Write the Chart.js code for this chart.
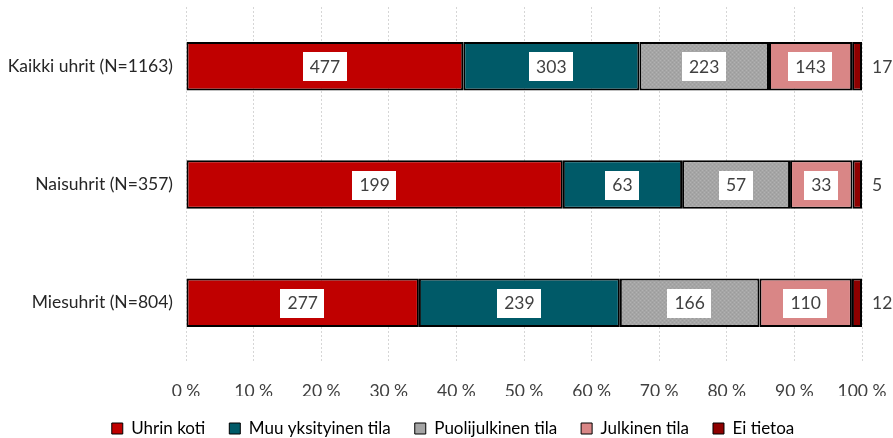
<!DOCTYPE html>
<html>
<head>
<meta charset="utf-8">
<script src="https://cdn.jsdelivr.net/npm/chart.js@4/dist/chart.umd.min.js"></script>
<style>
  html, body { margin: 0; padding: 0; background: #fff; }
  #wrap { width: 893px; height: 438px; }
</style>
</head>
<body>
<div id="wrap"><canvas id="c" width="893" height="438"></canvas></div>
<script>
// Ryhmät ja lukumäärät (tapahtumapaikka)
const categories = ['Kaikki uhrit (N=1163)', 'Naisuhrit (N=357)', 'Miesuhrit (N=804)'];
const totals = [1163, 357, 804];
const seriesNames = ['Uhrin koti', 'Muu yksityinen tila', 'Puolijulkinen tila', 'Julkinen tila', 'Ei tietoa'];
const uhrinKoti = [477, 199, 277];
const muuYksityinen = [303, 63, 239];
const puolijulkinen = [223, 57, 166];
const julkinen = [143, 33, 110];
const eiTietoa = [17, 5, 12];
const xTicks = [0, 10, 20, 30, 40, 50, 60, 70, 80, 90, 100];

const FONT = 'Lato, "Open Sans", sans-serif';
const FS = 17.5;

// Harmaa pisterasteri puolijulkiselle tilalle
function greyPattern() {
  const p = document.createElement('canvas');
  p.width = 4; p.height = 4;
  const g = p.getContext('2d');
  g.fillStyle = '#A5A5A5';
  g.fillRect(0, 0, 4, 4);
  g.fillStyle = '#B2B2B2';
  g.fillRect(0, 0, 1, 1);
  g.fillRect(2, 2, 1, 1);
  g.fillStyle = '#9B9B9B';
  g.fillRect(2, 0, 1, 1);
  g.fillRect(0, 2, 1, 1);
  return g.createPattern(p, 'repeat');
}

const counts = [uhrinKoti, muuYksityinen, puolijulkinen, julkinen, eiTietoa];
const colors = ['#C00000', '#005A68', greyPattern(), '#D98686', '#8E0000'];
const legendColors = ['#C00000', '#005A68', '#A5A5A5', '#D98686', '#8E0000'];

// Arvolaatikot palkkien päälle
const valueLabels = {
  id: 'valueLabels',
  afterDatasetsDraw(chart) {
    const ctx = chart.ctx;
    ctx.save();
    ctx.font = FS + 'px ' + FONT;
    ctx.textBaseline = 'middle';
    chart.data.datasets.forEach((ds, di) => {
      const meta = chart.getDatasetMeta(di);
      meta.data.forEach((bar, i) => {
        const txt = String(counts[di][i]);
        if (di === counts.length - 1) {
          ctx.fillStyle = '#404040';
          ctx.textAlign = 'left';
          ctx.fillText(txt, chart.scales.x.right + 10, bar.y + 1);
          return;
        }
        const cx = (bar.x + bar.base) / 2;
        const w = ctx.measureText(txt).width + 14;
        ctx.fillStyle = '#fff';
        ctx.fillRect(Math.round(cx - w / 2), Math.round(bar.y - 14), Math.round(w), 29);
        ctx.fillStyle = '#404040';
        ctx.textAlign = 'center';
        ctx.fillText(txt, cx, bar.y + 1);
      });
    });
    ctx.restore();
  }
};

// Selite hieman oikealle, kuten alkuperäisessä
const shiftLegend = {
  id: 'shiftLegend',
  afterLayout(chart) { chart.legend.left += 44; },
};

new Chart(document.getElementById('c'), {
  type: 'bar',
  data: {
    labels: categories,
    datasets: seriesNames.map((name, k) => ({
      label: name,
      data: counts[k].map((v, i) => v / totals[i] * 100),
      backgroundColor: colors[k],
      borderColor: '#000',
      borderWidth: 2,
      borderSkipped: false,
      barPercentage: 0.41,
      categoryPercentage: 1,
    })),
  },
  options: {
    indexAxis: 'y',
    responsive: false,
    animation: false,
    layout: { padding: { top: 7, right: 31, left: 0, bottom: -9 } },
    plugins: {
      tooltip: { enabled: false },
      legend: {
        position: 'bottom',
        labels: {
          font: { family: FONT, size: 17 },
          color: '#404040',
          boxWidth: 11, boxHeight: 11,
          padding: 24,
          generateLabels: chart => seriesNames.map((n, k) => ({
            text: n, fillStyle: legendColors[k], strokeStyle: '#000',
            lineWidth: 1, datasetIndex: k, hidden: false,
          })),
        },
      },
    },
    scales: {
      x: {
        stacked: true, min: 0, max: 100,
        afterBuildTicks: s => { s.ticks = xTicks.map(v => ({ value: v })); },
        afterFit: s => { s.height = 34; s.paddingLeft = 0; s.paddingRight = 0; },
        grid: { color: '#D6D6D6', lineWidth: 1, drawTicks: false, tickLength: 0 },
        border: { display: false, dash: [2, 2] },
        ticks: {
          color: '#404040', font: { family: FONT, size: FS }, padding: 19,
          callback: v => v + '\u202F%',
        },
      },
      y: {
        stacked: true,
        afterFit: s => { s.width = 186; s.paddingTop = 0; s.paddingBottom = 0; },
        grid: { display: false, drawTicks: false },
        border: { display: false },
        ticks: { color: '#262626', font: { family: FONT, size: FS }, padding: 13 },
      },
    },
  },
  plugins: [valueLabels, shiftLegend],
});
</script>
</body>
</html>
